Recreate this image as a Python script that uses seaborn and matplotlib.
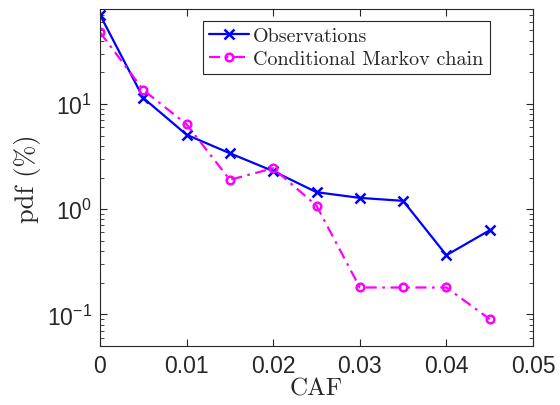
import matplotlib
matplotlib.use("Agg")
import matplotlib.pyplot as plt
import seaborn as sns
import numpy as np
from matplotlib.ticker import LogLocator, FixedLocator

caf = [0.0, 0.005, 0.01, 0.015, 0.02, 0.025, 0.03, 0.035, 0.04, 0.045]
obs = [70.5, 11.4, 5.1, 3.4, 2.3, 1.45, 1.28, 1.2, 0.365, 0.63]
markov = [48.0, 13.6, 6.4, 1.9, 2.45, 1.08, 0.18, 0.18, 0.18, 0.09]
xticks = [0, 0.01, 0.02, 0.03, 0.04, 0.05]
xticklabels = ["0", "0.01", "0.02", "0.03", "0.04", "0.05"]

sns.set_style("white")
plt.rcParams['font.family'] = ['Liberation Sans', 'DejaVu Sans']
plt.rcParams['mathtext.fontset'] = 'custom'
plt.rcParams['mathtext.rm'] = 'Liberation Sans'
plt.rcParams['mathtext.it'] = 'Liberation Sans'
plt.rcParams['axes.unicode_minus'] = False

fig = plt.figure(figsize=(5.6, 4.06), dpi=100)
ax = fig.add_axes([100/560, 1-347/406, 433/560, 337/406])

sns.lineplot(x=caf, y=obs, ax=ax, color='#0000ff', marker='x', markersize=7,
             markeredgecolor='#0000ff', markeredgewidth=1.8, linewidth=1.6,
             label='Observations')
sns.lineplot(x=caf, y=markov, ax=ax, color='#ff00ff', marker='o', markersize=5.5,
             markerfacecolor='none', markeredgecolor='#ff00ff', markeredgewidth=1.8,
             linewidth=1.6, linestyle=(0, (5, 2.5, 1.2, 2.5)), label='Conditional Markov chain')

ax.set_yscale('log')
ax.set_xlim(0, 0.05)
ax.set_ylim(0.05, 80)
ax.xaxis.set_major_locator(FixedLocator(xticks))
ax.set_xticklabels(xticklabels)
ax.yaxis.set_major_locator(LogLocator(base=10, numticks=10))
ax.yaxis.set_minor_locator(LogLocator(base=10, subs=np.arange(2, 10), numticks=20))

gray = '#262626'
for s in ax.spines.values():
    s.set_color(gray)
    s.set_linewidth(0.8)
    s.set_visible(True)
ax.tick_params(which='both', direction='in', top=True, right=True, left=True,
               bottom=True, colors=gray, labelcolor=gray, labelsize=16.5)
ax.tick_params(which='major', length=5, width=0.8)
ax.tick_params(which='minor', length=3, width=0.6)
ax.tick_params(axis='x', pad=6)
ax.tick_params(axis='y', pad=6)

ax.set_xlabel('CAF', fontfamily='cmr10', fontsize=18, color=gray, labelpad=0)
ax.set_ylabel('pdf (%)', fontfamily='cmr10', fontsize=19, color=gray, labelpad=4)

leg = ax.legend(loc='upper left', bbox_to_anchor=(203/560, 1-22/406),
                bbox_transform=fig.transFigure, prop={'family': 'cmr10', 'size': 14.5},
                frameon=True, fancybox=False, framealpha=1, edgecolor=gray,
                borderpad=0.3, labelspacing=0.25, handlelength=2.0, handletextpad=0.2,
                borderaxespad=0)
leg.get_frame().set_linewidth(0.8)

fig.savefig('out.png', dpi=100)
